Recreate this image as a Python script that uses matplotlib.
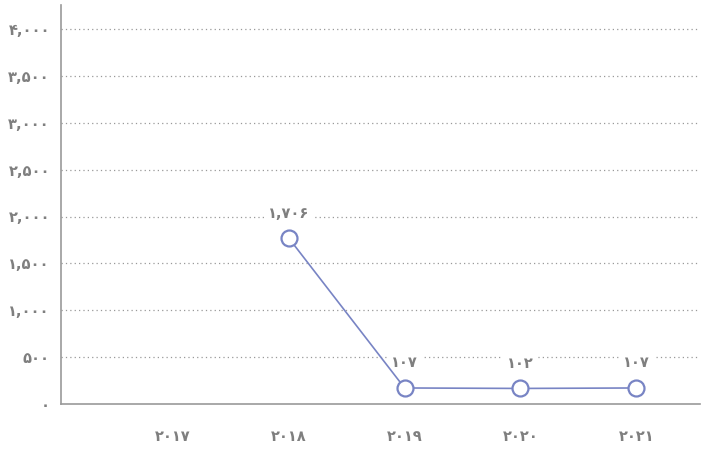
import matplotlib
matplotlib.use("Agg")
import matplotlib.pyplot as plt
import matplotlib.transforms as mtransforms
import numpy as np

years = ["2017", "2018", "2019", "2020", "2021"]
values = [np.nan, 1706, 107, 102, 107]
yticks = [0, 500, 1000, 1500, 2000, 2500, 3000, 3500, 4000]

FA = str.maketrans("0123456789", "۰۱۲۳۴۵۶۷۸۹")
def fa(s):
    return s.translate(FA)

plt.rcParams['font.family'] = ['DejaVu Sans']

fig = plt.figure(figsize=(7.14, 4.49), dpi=100)
ax = fig.add_axes([61/714, 45/449, 639/714, 399/449])

x = np.arange(len(years))
ax.set_xlim(-0.966, 4.55)
ax.set_ylim(0, 4256)

for t in yticks[1:]:
    ax.axhline(t, color="#999999", lw=0.9, ls=(0, (1, 2.5)), zorder=1)

off = mtransforms.offset_copy(ax.transData, fig=fig, x=0, y=6, units='dots')
col = "#7884c4"
ax.plot(x, values, color=col, lw=1.2, marker="o", ms=11.5, mfc="white",
        mec=col, mew=1.6, transform=off, zorder=5, clip_on=False)

for xi, v in zip(x, values):
    if np.isnan(v):
        continue
    ax.annotate(fa(f"{int(v):,}"), (xi, v), xycoords=off, xytext=(0, 25),
                textcoords="offset pixels", ha="center", va="center",
                fontsize=10.5, fontweight="bold", color="#7f7f7f", zorder=4,
                bbox=dict(boxstyle="square,pad=0.3", fc="white", ec="none"))

ax.set_yticks(yticks)
ax.set_yticklabels([fa(f"{t:,}") for t in yticks])
ax.set_xticks(x)
ax.set_xticklabels([fa(y) for y in years])
ax.tick_params(axis="both", length=0, labelsize=10.5, labelcolor="#7f7f7f")
ax.tick_params(axis="y", pad=8)
ax.tick_params(axis="x", pad=18)
for lbl in ax.get_xticklabels() + ax.get_yticklabels():
    lbl.set_fontweight("bold")

for s in ["top", "right"]:
    ax.spines[s].set_visible(False)
for s in ["left", "bottom"]:
    ax.spines[s].set_color("#999999")
    ax.spines[s].set_linewidth(1.2)

fig.savefig("out.png", dpi=100)
